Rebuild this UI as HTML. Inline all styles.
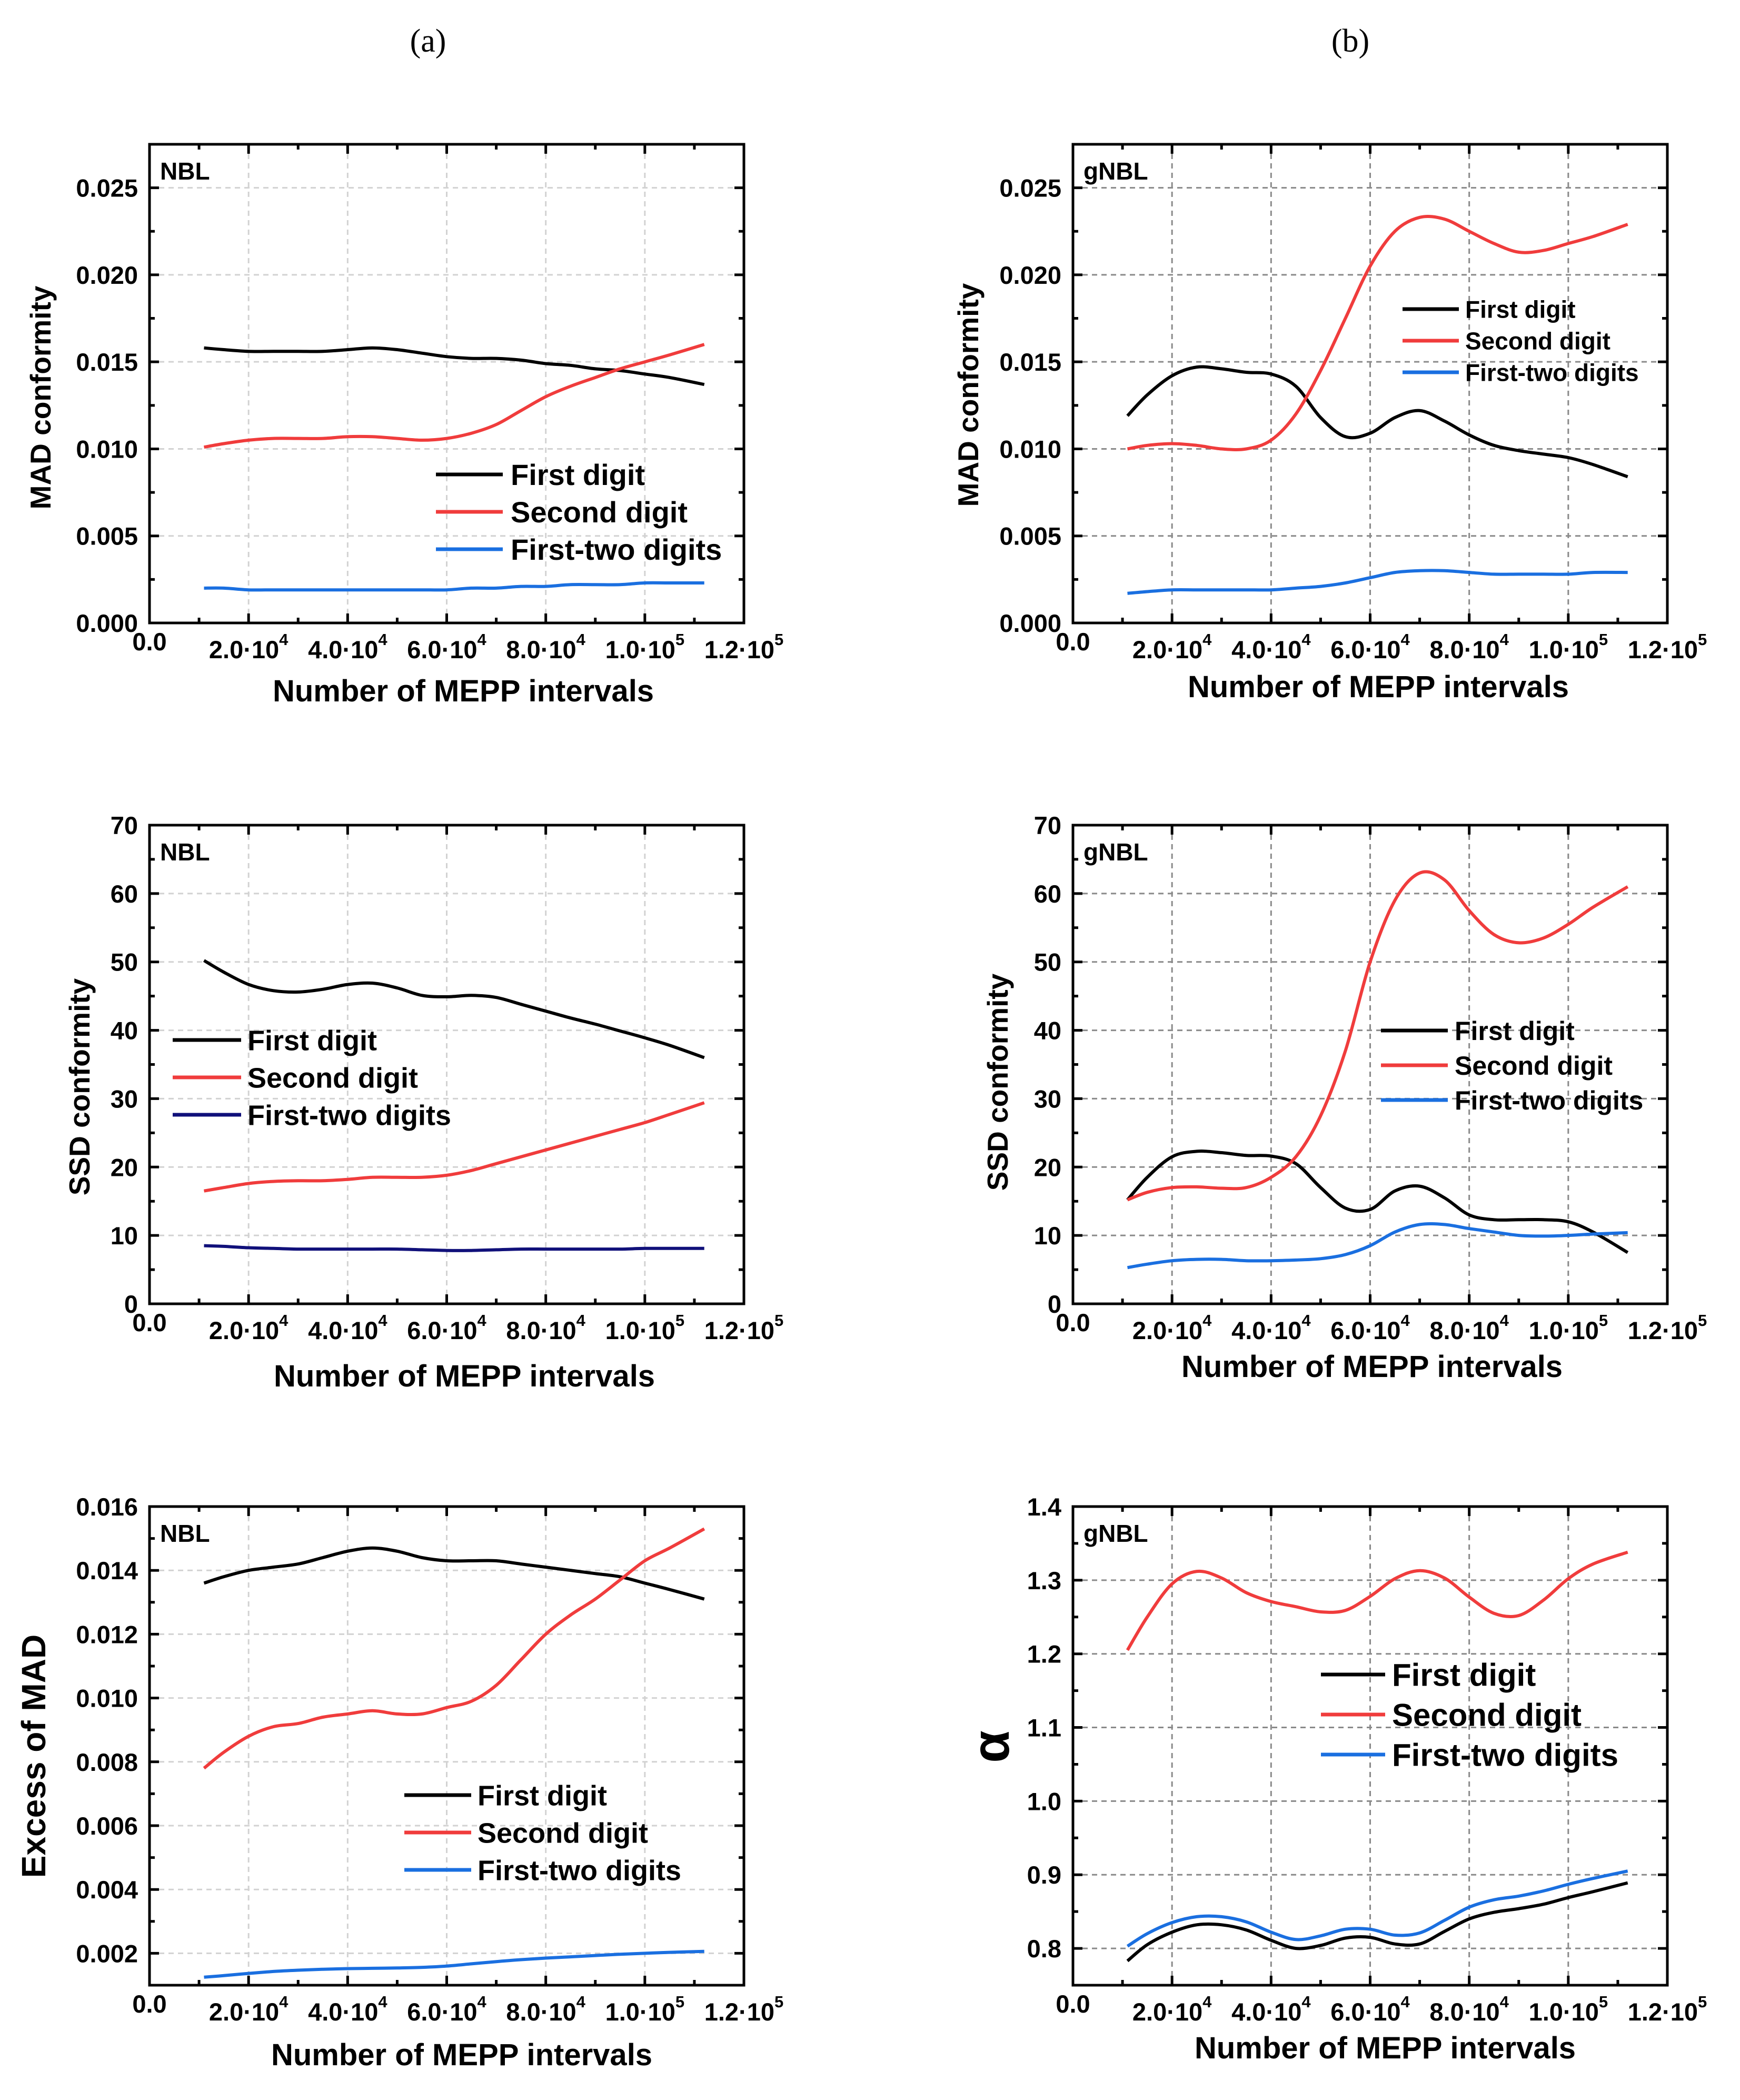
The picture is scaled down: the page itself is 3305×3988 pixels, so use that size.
<!DOCTYPE html>
<html><head><meta charset="utf-8"><style>
html,body{margin:0;padding:0;background:#fff;}
svg{display:block;}
text{font-family:"Liberation Sans",sans-serif;font-weight:bold;fill:#000;}
</style></head><body>
<svg id="fig" width="3305" height="3988" viewBox="0 0 3305 3988" xmlns="http://www.w3.org/2000/svg">
<text x="813" y="98" font-size="62" style="font-family:'Liberation Serif',serif;font-weight:normal" text-anchor="middle">(a)</text>
<text x="2565" y="98" font-size="62" style="font-family:'Liberation Serif',serif;font-weight:normal" text-anchor="middle">(b)</text>
</svg>
<script>
// shared x grid (number of MEPP intervals)
const xs = [11000,15000,20000,25000,30000,35000,40000,45000,50000,55000,60000,65000,70000,75000,80000,85000,90000,95000,100000,105000,112000];
const xTickVals = [0,20000,40000,60000,80000,100000,120000];
const xTickMant = ["0.0","2.0","4.0","6.0","8.0","1.0","1.2"];
const xTickExp = ["","4","4","4","4","5","5"];
const seriesNames = ["First digit","Second digit","First-two digits"];

// panel a1: MAD conformity NBL
const a1First = [0.0158,0.0157,0.0156,0.0156,0.0156,0.0156,0.0157,0.0158,0.0157,0.0155,0.0153,0.0152,0.0152,0.0151,0.0149,0.0148,0.0146,0.0145,0.0143,0.0141,0.0137];
const a1Second = [0.0101,0.0103,0.0105,0.0106,0.0106,0.0106,0.0107,0.0107,0.0106,0.0105,0.0106,0.0109,0.0114,0.0122,0.0130,0.0136,0.0141,0.0146,0.0150,0.0154,0.0160];
const a1Two = [0.0020,0.0020,0.0019,0.0019,0.0019,0.0019,0.0019,0.0019,0.0019,0.0019,0.0019,0.0020,0.0020,0.0021,0.0021,0.0022,0.0022,0.0022,0.0023,0.0023,0.0023];
const a1YTicks = [0,0.005,0.010,0.015,0.020,0.025];

// panel b1: MAD conformity gNBL
const b1First = [0.0119,0.0131,0.0142,0.0147,0.0146,0.0144,0.0143,0.0136,0.0118,0.0107,0.0109,0.0118,0.0122,0.0116,0.0108,0.0102,0.0099,0.0097,0.0095,0.0091,0.0084];
const b1Second = [0.0100,0.0102,0.0103,0.0102,0.0100,0.0100,0.0105,0.0120,0.0145,0.0175,0.0205,0.0225,0.0233,0.0232,0.0225,0.0218,0.0213,0.0214,0.0218,0.0222,0.0229];
const b1Two = [0.0017,0.0018,0.0019,0.0019,0.0019,0.0019,0.0019,0.0020,0.0021,0.0023,0.0026,0.0029,0.0030,0.0030,0.0029,0.0028,0.0028,0.0028,0.0028,0.0029,0.0029];

// panel a2: SSD conformity NBL
const a2First = [50.2,48.5,46.7,45.8,45.6,46.0,46.7,46.9,46.2,45.1,44.9,45.1,44.8,43.8,42.8,41.8,40.9,39.9,38.9,37.8,36.0];
const a2Second = [16.5,17.0,17.6,17.9,18.0,18.0,18.2,18.5,18.5,18.5,18.8,19.5,20.5,21.5,22.5,23.5,24.5,25.5,26.5,27.7,29.4];
const a2Two = [8.5,8.4,8.2,8.1,8.0,8.0,8.0,8.0,8.0,7.9,7.8,7.8,7.9,8.0,8.0,8.0,8.0,8.0,8.1,8.1,8.1];
const ssdYTicks = [0,10,20,30,40,50,60,70];

// panel b2: SSD conformity gNBL
const b2First = [15.2,18.5,21.5,22.3,22.1,21.7,21.6,20.5,17.0,14.0,13.8,16.5,17.2,15.5,13.0,12.3,12.3,12.3,12.0,10.5,7.5];
const b2Second = [15.2,16.3,17.0,17.1,16.9,17.0,18.5,21.5,27.5,37.0,50.0,59.0,63.0,62.0,57.5,54.0,52.8,53.5,55.5,58.0,61.0];
const b2Two = [5.3,5.8,6.3,6.5,6.5,6.3,6.3,6.4,6.6,7.2,8.5,10.5,11.6,11.6,11.0,10.5,10.0,9.9,10.0,10.2,10.4];

// panel a3: Excess of MAD NBL
const a3First = [0.0136,0.0138,0.0140,0.0141,0.0142,0.0144,0.0146,0.0147,0.0146,0.0144,0.0143,0.0143,0.0143,0.0142,0.0141,0.0140,0.0139,0.0138,0.0136,0.0134,0.0131];
const a3Second = [0.0078,0.0083,0.0088,0.0091,0.0092,0.0094,0.0095,0.0096,0.0095,0.0095,0.0097,0.0099,0.0104,0.0112,0.0120,0.0126,0.0131,0.0137,0.0143,0.0147,0.0153];
const a3Two = [0.00125,0.00130,0.00137,0.00143,0.00147,0.00150,0.00152,0.00153,0.00154,0.00156,0.00160,0.00167,0.00174,0.00180,0.00185,0.00189,0.00193,0.00197,0.00200,0.00203,0.00206];
const a3YTicks = [0.002,0.004,0.006,0.008,0.010,0.012,0.014,0.016];

// panel b3: alpha gNBL
const b3First = [0.783,0.805,0.822,0.832,0.832,0.825,0.811,0.800,0.804,0.814,0.815,0.806,0.806,0.823,0.840,0.849,0.854,0.860,0.869,0.877,0.889];
const b3Second = [1.205,1.250,1.295,1.312,1.303,1.283,1.271,1.264,1.257,1.259,1.278,1.302,1.313,1.303,1.277,1.255,1.252,1.273,1.302,1.322,1.338];
const b3Two = [0.803,0.820,0.835,0.843,0.843,0.836,0.822,0.812,0.817,0.826,0.826,0.818,0.821,0.838,0.856,0.866,0.871,0.878,0.887,0.895,0.905];
const b3YTicks = [0.8,0.9,1.0,1.1,1.2,1.3,1.4];

const NS = "http://www.w3.org/2000/svg";
const svg = document.getElementById('fig');
function mk(tag, attrs, parent){const e=document.createElementNS(NS,tag);for(const k in attrs)e.setAttribute(k,attrs[k]);(parent||svg).appendChild(e);return e;}

function smoothPath(pts){
  let d = "M"+pts[0][0].toFixed(1)+","+pts[0][1].toFixed(1);
  for(let i=0;i<pts.length-1;i++){
    const p0=pts[Math.max(0,i-1)],p1=pts[i],p2=pts[i+1],p3=pts[Math.min(pts.length-1,i+2)];
    const c1=[p1[0]+(p2[0]-p0[0])/6,p1[1]+(p2[1]-p0[1])/6];
    const c2=[p2[0]-(p3[0]-p1[0])/6,p2[1]-(p3[1]-p1[1])/6];
    d+=" C"+c1[0].toFixed(1)+","+c1[1].toFixed(1)+" "+c2[0].toFixed(1)+","+c2[1].toFixed(1)+" "+p2[0].toFixed(1)+","+p2[1].toFixed(1);
  }
  return d;
}

function panel(cfg){
  const L=cfg.left,T=cfg.top,W=1129,H=909,R=L+W,B=T+H;
  const g=mk('g',{});
  
  
  const sx=v=>L+(v-0)/(120000)*W;
  const sy=v=>B-(v-cfg.ymin)/(cfg.ymax-cfg.ymin)*H;
  const gridColor=cfg.grid;
  for(const v of xTickVals){ if(v<=0||v>=120000) continue;
    const l=mk('line',{x1:sx(v),x2:sx(v),y1:T,y2:B,stroke:gridColor,'stroke-width':3,'stroke-dasharray':'10 8'},g);
    
    }
  for(const v of cfg.yticks){ const y=sy(v); if(y<=T+2||y>=B-2) continue;
    const l=mk('line',{x1:L,x2:R,y1:y,y2:y,stroke:gridColor,'stroke-width':3,'stroke-dasharray':'10 8'},g);
    
    }
  let td="";
  for(let v=0;v<=120000;v+=10000){const x=sx(v);const len=(v%20000===0)?18:10;td+=`M${x},${B}v${-len}M${x},${T}v${len}`;}
  const ys=cfg.yticks, step=ys[1]-ys[0];
  for(let v=ys[0]-step;v<=cfg.ymax+1e-9;v+=step/2){const y=sy(v);if(y<T-1||y>B+1)continue;
    const major=ys.some(t=>Math.abs(t-v)<step*0.01);const len=major?18:10;td+=`M${L},${y}h${len}M${R},${y}h${-len}`;}
  const tk=mk('path',{d:td,stroke:'#000','stroke-width':5,fill:'none'},g);
  
  
  const cols=['#000000','#f03c3c',cfg.twoColor];
  cfg.series.forEach((arr,i)=>{
    const pts=xs.map((x,j)=>[sx(x),sy(arr[j])]);
    const p=mk('path',{d:smoothPath(pts),stroke:cols[i],'stroke-width':6,fill:'none','stroke-linejoin':'round'},g);
    
    
  });
  const fr=mk('rect',{x:L,y:T,width:W,height:H,fill:'none',stroke:'#000','stroke-width':5},g);
  
  
  for(const v of cfg.yticks){
    const t=mk('text',{x:L-22,y:sy(v)+17,'font-size':47,'text-anchor':'end'},g);
    t.textContent=v.toFixed(cfg.dec);
    
    
  }
  xTickVals.forEach((v,i)=>{
    const t=mk('text',{x:sx(v),y:(v===0?B+52:B+67),'font-size':47,'text-anchor':'middle'},g);
    
    
    if(xTickExp[i]===""){t.textContent=xTickMant[i];}
    else{
      const a=mk('tspan',{},t);a.textContent=xTickMant[i]+"\u00b710";
      const s=mk('tspan',{'font-size':31,dy:-25},t);s.textContent=xTickExp[i];
    }
  });
  const xt=mk('text',{x:cfg.xtx,y:cfg.xty,'font-size':58,'text-anchor':'middle'},g);
  xt.textContent="Number of MEPP intervals";
  
  
  const yt=mk('text',{x:0,y:0,'font-size':cfg.ytfs,'text-anchor':'middle',transform:`translate(${cfg.ytx},${cfg.yty}) rotate(-90)`},g);
  yt.textContent=cfg.ytitle;
  
  
  const nb=mk('text',{x:L+20,y:T+67,'font-size':46},g);
  nb.textContent=cfg.tag;
  
  
  const lg=cfg.legend;
  cols.forEach((c,i)=>{
    const y=lg.y0+i*lg.dy;
    const ln=mk('line',{x1:lg.x1,x2:lg.x2,y1:y,y2:y,stroke:c,'stroke-width':7},g);
    
    
    const t=mk('text',{x:lg.tx,y:y+lg.fs*0.36,'font-size':lg.fs},g);
    t.textContent=seriesNames[i];
    
    
  });
}

const CA=284, CB=2038, R1=274, R2=1567, R3=2861;
const blue='#1a6fe0';
panel({name:'panel-a1-mad-nbl',left:CA,top:R1,ymin:0,ymax:0.0275,yticks:a1YTicks,dec:3,grid:'#d2d2d2',twoColor:blue,
  series:[a1First,a1Second,a1Two],tag:'NBL',ytitle:'MAD conformity',ytx:96,yty:755,ytfs:55,xtx:880,xty:1332,
  legend:{x1:828,x2:955,tx:970,y0:901,dy:71,fs:56}});
panel({name:'panel-b1-mad-gnbl',left:CB,top:R1,ymin:0,ymax:0.0275,yticks:a1YTicks,dec:3,grid:'#8a8a8a',twoColor:blue,
  series:[b1First,b1Second,b1Two],tag:'gNBL',ytitle:'MAD conformity',ytx:1858,yty:750,ytfs:55,xtx:2618,xty:1324,
  legend:{x1:2664,x2:2771,tx:2783,y0:587,dy:60,fs:46}});
panel({name:'panel-a2-ssd-nbl',left:CA,top:R2,ymin:0,ymax:70,yticks:ssdYTicks,dec:0,grid:'#d2d2d2',twoColor:'#10107a',
  series:[a2First,a2Second,a2Two],tag:'NBL',ytitle:'SSD conformity',ytx:170,yty:2064,ytfs:55,xtx:882,xty:2633,
  legend:{x1:328,x2:458,tx:470,y0:1975,dy:71,fs:54}});
panel({name:'panel-b2-ssd-gnbl',left:CB,top:R2,ymin:0,ymax:70,yticks:ssdYTicks,dec:0,grid:'#8a8a8a',twoColor:blue,
  series:[b2First,b2Second,b2Two],tag:'gNBL',ytitle:'SSD conformity',ytx:1914,yty:2055,ytfs:55,xtx:2606,xty:2615,
  legend:{x1:2623,x2:2750,tx:2763,y0:1957,dy:66,fs:50}});
panel({name:'panel-a3-excess-mad-nbl',left:CA,top:R3,ymin:0.001,ymax:0.016,yticks:a3YTicks,dec:3,grid:'#d2d2d2',twoColor:blue,
  series:[a3First,a3Second,a3Two],tag:'NBL',ytitle:'Excess of MAD',ytx:86,yty:3335,ytfs:64,xtx:877,xty:3922,
  legend:{x1:768,x2:895,tx:907,y0:3409,dy:71,fs:54}});
panel({name:'panel-b3-alpha-gnbl',left:CB,top:R3,ymin:0.75,ymax:1.4,yticks:b3YTicks,dec:1,grid:'#8a8a8a',twoColor:blue,
  series:[b3First,b3Second,b3Two],tag:'gNBL',ytitle:'\u03b1',ytx:1916,yty:3317,ytfs:100,xtx:2631,xty:3909,
  legend:{x1:2509,x2:2631,tx:2644,y0:3180,dy:76,fs:60}});
</script>
</body></html>
